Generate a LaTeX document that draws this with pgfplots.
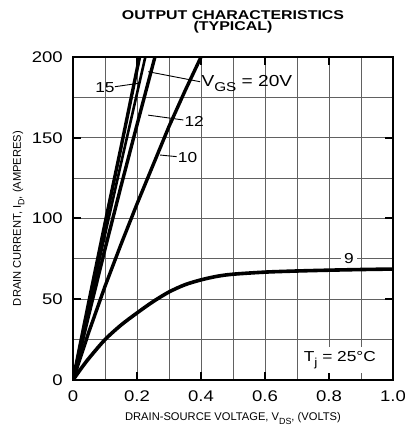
\documentclass[border=0pt]{standalone}
\usepackage{fontspec}
\setmainfont{Liberation Sans}[FakeStretch=1.2]
\newfontfamily\plainsans{Liberation Sans}
\newfontfamily\titlesans{Liberation Sans}[FakeStretch=1.25]
\usepackage{graphicx}
\usepackage{pgfplots}
\pgfplotsset{compat=1.18}
\newcommand{\sub}[1]{\raisebox{-0.3em}{\scalebox{0.8}{#1}}}
\begin{document}
\begin{tikzpicture}
\useasboundingbox (-73bp,-49bp) rectangle (332bp,380bp);
\begin{axis}[at={(0,0)}, anchor=south west, scale only axis,
  width=320bp, height=323bp,
  xmin=0, xmax=1, ymin=0, ymax=200,
  xtick={0,0.2,0.4,0.6,0.8,1.0}, xticklabels={0,0.2,0.4,0.6,0.8,1.0},
  ytick={0,50,100,150,200},
  minor xtick={0.1,0.3,0.5,0.7,0.9}, minor ytick={25,75,125,175},
  grid=both, grid style={line width=0.9bp, color=black!62},
  tick align=inside, major tick length=8bp, minor tick length=0pt,
  every tick/.style={black, line width=2bp},
  axis line style={line width=2bp},
  /pgf/number format/assume math mode=true,
  ticklabel style={font=\fontsize{15.5}{17}\selectfont},
  yticklabel style={inner sep=0pt, anchor=east, xshift=-10bp},
  xticklabel style={inner sep=0pt, anchor=north, yshift=-11bp},
  clip mode=individual,
]
% 20 V
\addplot[black, line width=3.4bp] coordinates {(0,0) (0.05,49) (0.1,97) (0.15,144) (0.208,200)};
% 15 V
\addplot[black, line width=2.6bp] coordinates {(0,0) (0.05,45) (0.1,90) (0.15,134) (0.226,200)};
% 12 V
\addplot[black, line width=3.4bp] coordinates {(0,0) (0.05,41) (0.1,81) (0.15,120) (0.2,158) (0.256,200)};
% 10 V
\addplot[black, line width=3.4bp] coordinates {(0,0) (0.05,30) (0.1,58) (0.15,84) (0.2,109) (0.25,133) (0.3,157) (0.35,179) (0.4,200)};
% 9 V
\addplot[black, line width=3.6bp, smooth] coordinates {(0,0) (0.025,7) (0.05,13.5) (0.1,25) (0.15,34) (0.2,41.5) (0.25,48.5) (0.3,54.5) (0.35,59) (0.4,62) (0.45,64.2) (0.5,65.5) (0.6,66.8) (0.7,67.5) (0.8,68) (0.9,68.4) (1.0,68.7)};

% leaders
\draw[line width=0.9bp] (axis cs:0.131,181.6) -- (axis cs:0.204,183.7);
\draw[line width=0.9bp] (axis cs:0.235,190.9) -- (axis cs:0.397,184.7);
\draw[line width=0.9bp] (axis cs:0.235,164) -- (axis cs:0.345,161);
\draw[line width=0.9bp] (axis cs:0.272,139.3) -- (axis cs:0.324,138.3);

\node[font=\fontsize{14.5}{16}\selectfont, inner sep=1bp] at (axis cs:0.1,181) {15};
\node[font=\fontsize{16}{18}\selectfont, anchor=west, inner sep=1bp] at (axis cs:0.398,183.5) {V\sub{GS} = 20V};
\node[font=\fontsize{14.5}{16}\selectfont, anchor=west, inner sep=1bp] at (axis cs:0.345,160) {12};
\node[font=\fontsize{14.5}{16}\selectfont, anchor=west, inner sep=1bp] at (axis cs:0.324,138) {10};
\node[font=\fontsize{14.5}{16}\selectfont, anchor=base, fill=white, inner xsep=3bp, inner ysep=1bp] at (axis cs:0.8625,72.3) {9};
\node[font=\fontsize{14.5}{16}\selectfont, anchor=base, fill=white, inner xsep=5bp, inner ysep=5bp] at (axis cs:0.834,11.3) {T\sub{j} = 25°C};

% titles and labels
\node[anchor=base, font=\titlesans\bfseries\fontsize{12.8}{14}\selectfont] at (rel axis cs:0.5,1.1176) {OUTPUT CHARACTERISTICS};
\node[anchor=base, font=\titlesans\bfseries\fontsize{12.8}{14}\selectfont] at (rel axis cs:0.5,1.0805) {(TYPICAL)};
\node[anchor=base, font=\plainsans\fontsize{11.2}{13}\selectfont] at (rel axis cs:0.5,-0.126) {DRAIN-SOURCE VOLTAGE, V\sub{DS}, (VOLTS)};
\node[anchor=base, rotate=90, font=\plainsans\fontsize{11.2}{13}\selectfont] at (rel axis cs:-0.1625,0.5) {DRAIN CURRENT, I\sub{D}, (AMPERES)};
\end{axis}
\end{tikzpicture}
\end{document}
